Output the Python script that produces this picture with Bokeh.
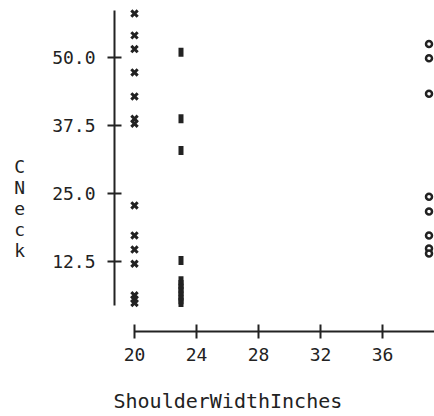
from bokeh.plotting import figure
from bokeh.models import Range1d, FixedTicker, Title, NumeralTickFormatter
from bokeh.embed import file_html
from bokeh.resources import INLINE

# ---- data ----
cross_shoulder = [20, 20, 20, 20, 20, 20, 20, 20, 20, 20, 20, 20, 20, 20]
cross_neck = [58.0, 54.0, 51.5, 47.2, 42.8, 38.7, 37.8, 22.8, 17.3, 14.7, 12.1, 6.3, 5.6, 4.9]

bar_shoulder = [23, 23, 23, 23, 23, 23, 23, 23, 23, 23, 23]
bar_neck = [50.9, 38.7, 32.9, 12.7, 9.0, 8.3, 7.6, 7.0, 6.2, 5.5, 5.0]

circle_shoulder = [39, 39, 39, 39, 39, 39, 39, 39]
circle_neck = [52.4, 49.8, 43.3, 24.4, 21.7, 17.3, 14.9, 14.0]

x_ticks = [20, 24, 28, 32, 36]
y_ticks = [12.5, 25.0, 37.5, 50.0]

x_title = "ShoulderWidthInches"
y_title = "CNeck"

# ---- geometry ----
W, H = 434, 416
LEFT, BOTTOM = 114, 85
x_range = Range1d(18.71, 39.355)
y_range = Range1d(-0.33, 60.4)

FONT = "DejaVu Sans Mono"
INK = "#222222"

p = figure(width=W, height=H, x_range=x_range, y_range=y_range,
           output_backend="svg", toolbar_location=None,
           min_border_left=LEFT, min_border_bottom=BOTTOM,
           min_border_top=0, min_border_right=0)
p.outline_line_color = None
p.xgrid.visible = False
p.ygrid.visible = False
p.background_fill_color = "white"
p.border_fill_color = "white"

for ax in (p.xaxis[0], p.yaxis[0]):
    ax.axis_line_width = 2
    ax.axis_line_color = INK
    ax.major_tick_line_width = 2
    ax.major_tick_line_color = INK
    ax.minor_tick_line_color = None
    ax.major_tick_in = 7
    ax.major_tick_out = 7
    ax.major_label_text_font = FONT
    ax.major_label_text_font_size = "18px"
    ax.major_label_text_color = INK
    ax.axis_label_text_font = FONT
    ax.axis_label_text_font_size = "18px"
    ax.axis_label_text_font_style = "normal"
    ax.axis_label_text_color = INK

p.xaxis[0].ticker = FixedTicker(ticks=x_ticks)
p.xaxis[0].formatter = NumeralTickFormatter(format="0")
p.xaxis[0].bounds = (20, 39.355)
p.xaxis[0].major_label_standoff = 9
# blank spacer label: pushes the x title (below) further down
p.xaxis[0].axis_label = " "
p.xaxis[0].axis_label_text_font_size = "4px"
p.xaxis[0].axis_label_standoff = 15

p.yaxis[0].ticker = FixedTicker(ticks=y_ticks)
p.yaxis[0].formatter = NumeralTickFormatter(format="0.0")
p.yaxis[0].bounds = (4.45, 58.6)
p.yaxis[0].major_label_standoff = 12
# stacked, upright letters; leading blank lines move the block down
p.yaxis[0].axis_label = "\n\n\n\n" + "\n".join(y_title)
p.yaxis[0].axis_label_orientation = "horizontal"
p.yaxis[0].axis_label_standoff = 24
p.yaxis[0].axis_label_text_line_height = 1.0

# ---- marks ----
p.scatter(cross_shoulder, cross_neck, marker="x", size=9, line_width=3,
          line_color=INK)
p.rect(bar_shoulder, bar_neck, width=5, height=9, width_units="screen",
       height_units="screen", fill_color=INK, line_color=None)
p.scatter(circle_shoulder, circle_neck, marker="circle", size=6, line_width=2.5,
          line_color=INK, fill_color="white")

# ---- x title ----
p.add_layout(Title(text=x_title, align="left", offset=-1, standoff=0,
                   text_font=FONT, text_font_size="20px",
                   text_font_style="normal", text_color=INK), "below")

open("out.html", "w").write(file_html(p, INLINE))
